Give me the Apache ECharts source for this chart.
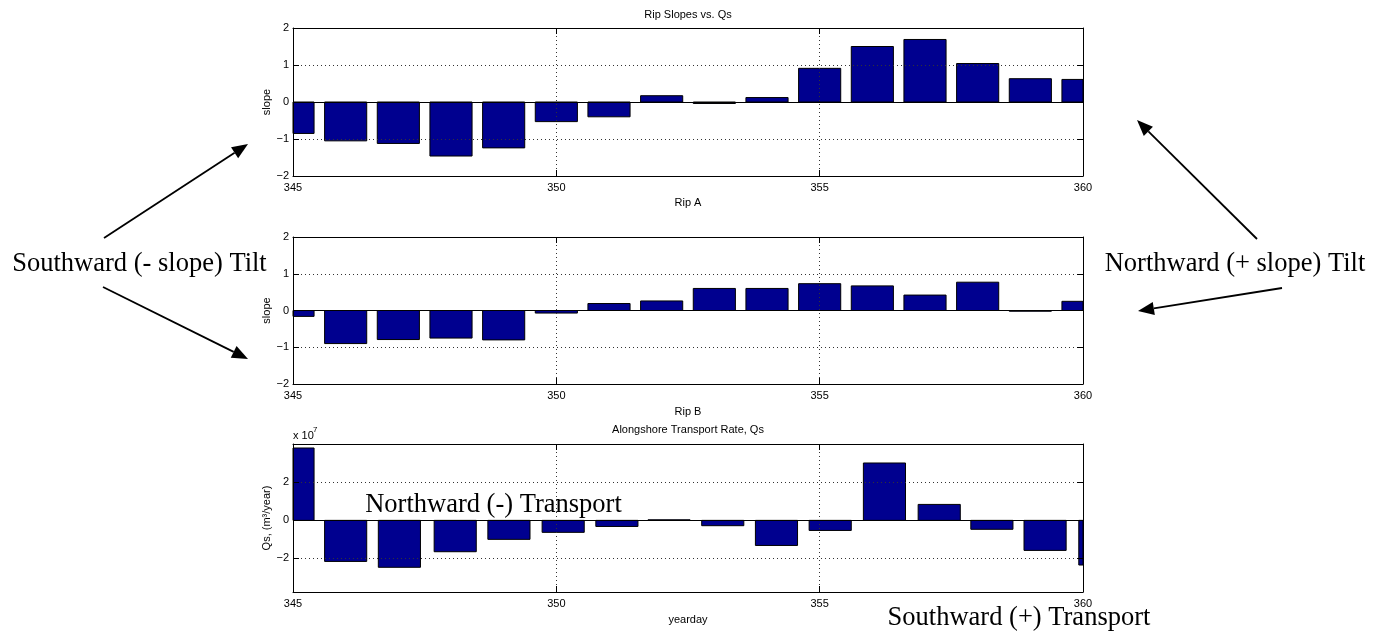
<!DOCTYPE html>
<html><head><meta charset="utf-8">
<script src="https://cdn.jsdelivr.net/npm/echarts@6/dist/echarts.min.js"></script>
<style>html,body{margin:0;padding:0;background:#fff}#c{width:1389px;height:644px}</style>
</head><body><div id="c"></div>
<script>
// ---- data ----
const days = [345, 346, 347, 348, 349, 350, 351, 352, 353, 354, 355, 356, 357, 358, 359, 360];
const ripA = [-0.85, -1.05, -1.12, -1.46, -1.24, -0.53, -0.40, 0.17, -0.04, 0.12, 0.91, 1.50, 1.69, 1.04, 0.63, 0.61];
const ripB = [-0.16, -0.90, -0.79, -0.75, -0.80, -0.07, 0.19, 0.26, 0.60, 0.60, 0.73, 0.67, 0.42, 0.77, -0.02, 0.25];
const qsDays = [345.0, 346.0, 347.02, 348.08, 349.10, 350.13, 351.15, 352.14, 353.16, 354.18, 355.20, 356.23, 357.27, 358.27, 359.28, 360.32];
const qsValues = [3.81, -2.16, -2.47, -1.65, -1.00, -0.63, -0.32, 0.03, -0.28, -1.32, -0.53, 3.02, 0.84, -0.47, -1.58, -2.35]; // x 10^7 m^3/year
const xTicks = [345, 350, 355, 360];
const slopeTicks = [-2, -1, 0, 1, 2];
const qsTicks = [-2, 0, 2];
const qsRange = [-3.77, 4.02];
const BAR_WIDTH_DAYS = 0.8;

// ---- layout / style ----
const SANS = "'Liberation Sans', Arial, Helvetica, sans-serif";
const SERIF = "'Liberation Serif', 'Times New Roman', serif";
const LEFT = 293, RIGHT = 306;
const grids = [
  {left: LEFT, right: RIGHT, top: 28, height: 148},
  {left: LEFT, right: RIGHT, top: 237, height: 147},
  {left: LEFT, right: RIGHT, top: 444, height: 148}
];
const minus = v => (v < 0 ? '\u2212' + Math.abs(v) : String(v));
const lineBlack = {color: '#000', width: 1};
const dotted = {color: '#333', type: [1, 3], width: 1};

function xAxesFor(gi, bottomName, bottomGap, topName, topGap) {
  const base = {
    gridIndex: gi, type: 'value', min: xTicks[0], max: xTicks[xTicks.length - 1], interval: 5,
    axisLine: {show: true, onZero: false, lineStyle: lineBlack},
    axisTick: {show: true, inside: true, length: 6, lineStyle: lineBlack},
    nameMoveOverlap: false, z: 5
  };
  return [
    Object.assign({}, base, {
      position: 'bottom',
      axisLabel: {show: true, color: '#000', fontSize: 11, fontFamily: SANS, margin: 6},
      splitLine: {show: true, showMinLine: false, showMaxLine: false, lineStyle: dotted},
      name: bottomName, nameLocation: 'middle', nameGap: bottomGap,
      nameTextStyle: {color: '#000', fontSize: 11, fontFamily: SANS}
    }),
    Object.assign({}, base, {
      position: 'top',
      axisLabel: {show: false},
      splitLine: {show: false},
      name: topName || '', nameLocation: 'middle', nameGap: topGap || 8,
      nameTextStyle: {color: '#000', fontSize: 11, fontFamily: SANS}
    })
  ];
}
function yAxesFor(gi, name, range, ticks, interval) {
  const common = {
    gridIndex: gi, type: 'value', min: range[0], max: range[1],
    axisLine: {show: true, onZero: false, lineStyle: lineBlack},
    axisTick: {show: true, inside: true, length: 6, lineStyle: lineBlack},
    nameMoveOverlap: false, z: 5
  };
  if (interval) common.interval = interval;
  else common.axisTick = Object.assign({}, common.axisTick, {customValues: ticks});
  const left = Object.assign({}, common, {
    position: 'left',
    axisLabel: {show: true, color: '#000', fontSize: 11, fontFamily: SANS, margin: 4, formatter: minus},
    splitLine: {show: !!interval, showMinLine: false, showMaxLine: false, lineStyle: dotted},
    name: name, nameLocation: 'middle', nameGap: 21,
    nameTextStyle: {color: '#000', fontSize: 11, fontFamily: SANS}
  });
  if (!interval) left.axisLabel.customValues = ticks;
  const right = Object.assign({}, common, {
    position: 'right', axisLabel: {show: false}, splitLine: {show: false}
  });
  return [left, right];
}

const xAxis = [].concat(
  xAxesFor(0, 'Rip A', 21, 'Rip Slopes vs. Qs', 8),
  xAxesFor(1, 'Rip B', 22, '', 8),
  xAxesFor(2, 'yearday', 22, 'Alongshore Transport Rate, Qs', 9)
);
const yAxis = [].concat(
  yAxesFor(0, 'slope', [slopeTicks[0], slopeTicks[slopeTicks.length - 1]], slopeTicks, 1),
  yAxesFor(1, 'slope', [slopeTicks[0], slopeTicks[slopeTicks.length - 1]], slopeTicks, 1),
  yAxesFor(2, 'Qs, (m\u00b3/year)', qsRange, qsTicks, 0)
);

// bars drawn through the axis scales (api.coord), clipped to the plot area like MATLAB
function renderBar(params, api) {
  const x = api.value(0), y = api.value(1);
  const p0 = api.coord([x - BAR_WIDTH_DAYS / 2, 0]);
  const p1 = api.coord([x + BAR_WIDTH_DAYS / 2, y]);
  const rect = echarts.graphic.clipRectByRect({
    x: p0[0], y: Math.min(p0[1], p1[1]),
    width: p1[0] - p0[0], height: Math.abs(p1[1] - p0[1])
  }, {
    x: params.coordSys.x, y: params.coordSys.y,
    width: params.coordSys.width, height: params.coordSys.height
  });
  if (!rect) return null;
  return {
    type: 'rect', shape: rect,
    style: {fill: '#00008F', stroke: '#000', lineWidth: 1}
  };
}

function barSeries(gi, xs, ys, extraLines) {
  const lines = [{yAxis: 0, lineStyle: {color: '#000', type: 'solid', width: 1}}].concat(extraLines || []);
  return {
    type: 'custom', xAxisIndex: gi * 2, yAxisIndex: gi * 2,
    renderItem: renderBar,
    encode: {x: 0, y: 1},
    data: xs.map((x, i) => [x, ys[i]]),
    silent: true, z: 2,
    markLine: {silent: true, symbol: 'none', label: {show: false}, data: lines, animation: false}
  };
}

const qsGridLines = qsTicks.filter(v => v !== 0).map(v => ({yAxis: v, lineStyle: dotted}));

function arrow(x1, y1, x2, y2) {
  const L = 16, H = 6.5;
  const dx = x2 - x1, dy = y2 - y1, len = Math.hypot(dx, dy);
  const ux = dx / len, uy = dy / len;
  const bx = x2 - ux * L, by = y2 - uy * L;
  return [
    {type: 'line', shape: {x1: x1, y1: y1, x2: bx, y2: by}, style: {stroke: '#000', lineWidth: 1.8}},
    {type: 'polygon', shape: {points: [[x2, y2], [bx - uy * H, by + ux * H], [bx + uy * H, by - ux * H]]}, style: {fill: '#000'}}
  ];
}
function label(text, x, y) {
  return {type: 'text', x: x, y: y, z: 10, style: {text: text, fill: '#000', font: '26.5px ' + SERIF, textAlign: 'center', textVerticalAlign: 'middle'}};
}

const graphic = [].concat(
  arrow(104, 238, 248, 144),
  arrow(103, 287, 248, 359),
  arrow(1257, 239, 1137, 120),
  arrow(1282, 288, 1138, 311),
  [
    label('Southward (- slope) Tilt', 139.5, 264.5),
    label('Northward (+ slope) Tilt', 1235, 264.5),
    label('Northward (-) Transport', 493.5, 505),
    label('Southward (+) Transport', 1019, 618),
    {type: 'text', x: 293, y: 436, style: {text: 'x 10', fill: '#000', font: '11px ' + SANS, textAlign: 'left', textVerticalAlign: 'middle'}},
    {type: 'text', x: 313, y: 430, style: {text: '7', fill: '#000', font: '8px ' + SANS, textAlign: 'left', textVerticalAlign: 'middle'}}
  ]
);

const chart = echarts.init(document.getElementById('c'));
chart.setOption({
  animation: false,
  backgroundColor: '#fff',
  grid: grids,
  xAxis: xAxis,
  yAxis: yAxis,
  series: [
    barSeries(0, days, ripA),
    barSeries(1, days, ripB),
    barSeries(2, qsDays, qsValues, qsGridLines)
  ],
  graphic: graphic
});
</script>
</body></html>
